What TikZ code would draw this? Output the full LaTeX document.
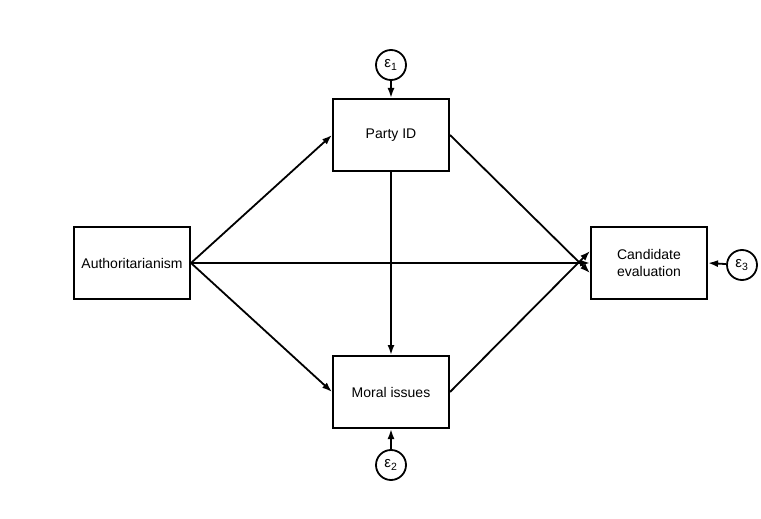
\documentclass[tikz,border=0pt]{standalone}
\usepackage{fontspec}
\setmainfont{Liberation Sans}
\usetikzlibrary{arrows.meta}
\begin{document}
\begin{tikzpicture}[x=1pt,y=-1pt,
  box/.style={draw,line width=2pt,minimum width=116pt,minimum height=72pt,inner sep=0pt,align=center,font=\fontsize{14}{17}\selectfont},
  err/.style={draw,circle,line width=1.8pt,minimum size=30pt,inner sep=0pt,font=\fontsize{15}{17}\selectfont},
  arr/.style={line width=1.8pt,-{Latex[length=10pt,width=7pt]}}]
\path[use as bounding box] (0,0) rectangle (761,519);
\node[box] (auth) at (132,263) {Authoritarianism};
\node[box] (party) at (391,135) {Party ID};
\node[box] (moral) at (391,392) {Moral issues};
\node[box] (cand) at (649,263) {Candidate\\evaluation};
\node[err] (e1) at (391,65) {ε\textsubscript{1}};
\node[err] (e2) at (391,465) {ε\textsubscript{2}};
\node[err] (e3) at (742,265) {ε\textsubscript{3}};
\draw[arr] (auth.east) -- (party.west);
\draw[arr] (auth.east) -- (moral.west);
\draw[arr] (auth.east) -- (cand.west);
\draw[arr] (party.east) -- ([yshift=-10pt]cand.west);
\draw[arr] (moral.east) -- ([yshift=12pt]cand.west);
\draw[arr] (party.south) -- (moral.north);
\draw[arr] (e1) -- (party.north);
\draw[arr] (e2) -- (moral.south);
\draw[arr] (e3) -- (cand.east);
\end{tikzpicture}
\end{document}
